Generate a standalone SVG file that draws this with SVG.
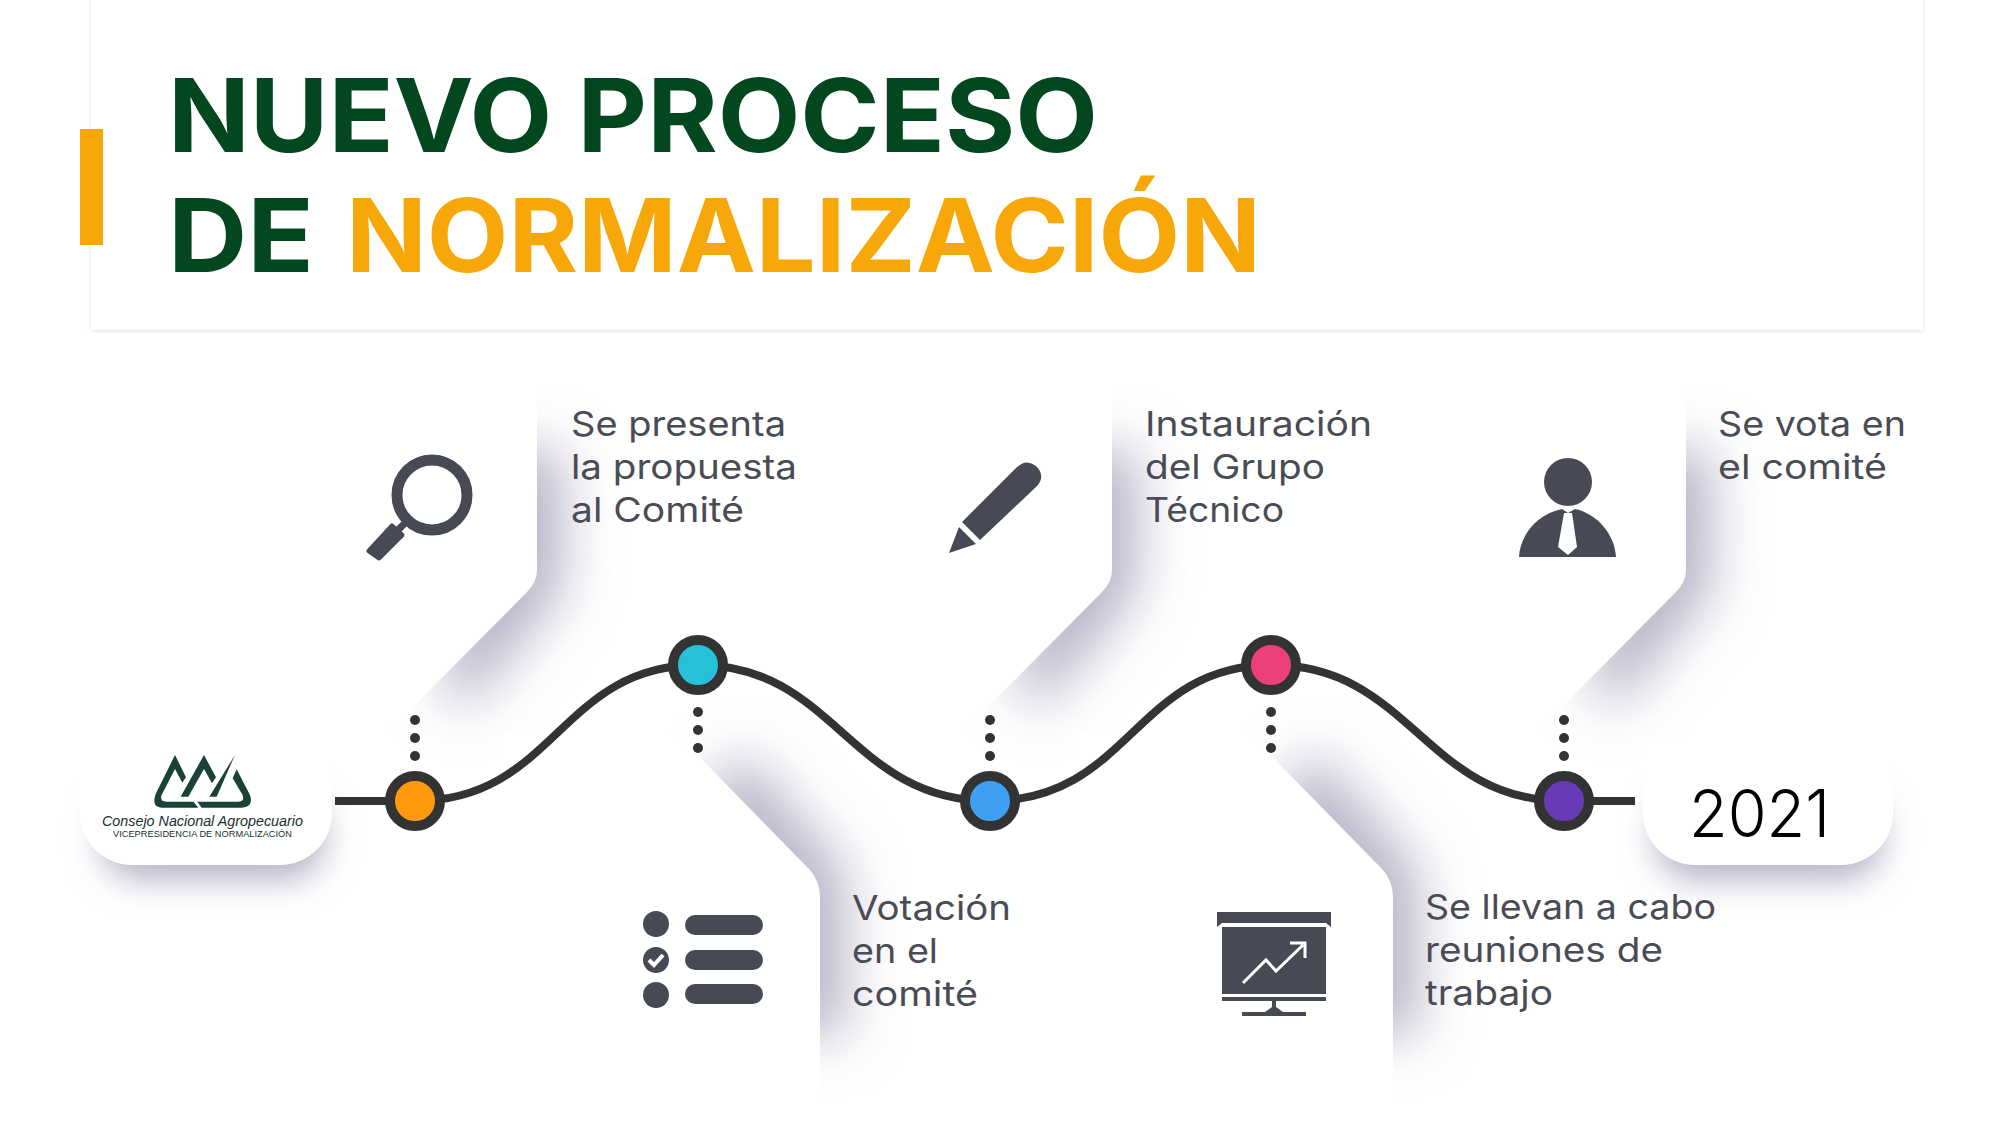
<svg xmlns="http://www.w3.org/2000/svg" width="2000" height="1125" viewBox="0 0 2000 1125">
<style>
.t{font-family:"Inter","Noto Sans",sans-serif;font-size:34px;fill:#4a4c55}
.h{font-family:"Inter","Noto Sans",sans-serif;font-size:102px;font-weight:700}
.g{fill:#03471f}.o{fill:#f7a707}
.ic{fill:#474a54}
.n{stroke:#333;stroke-width:10}
.w{fill:#fff}
.s{fill:#b4b4c8}
.d{fill:#333}
.l{fill:none;stroke:#333;stroke-width:8}
</style>
<defs>
<filter id="b" x="-80%" y="-50%" width="260%" height="200%"><feGaussianBlur stdDeviation="27"/></filter>
<filter id="c" x="-10%" y="-30%" width="120%" height="160%"><feGaussianBlur stdDeviation="2"/></filter>
<filter id="p" x="-30%" y="-60%" width="160%" height="220%"><feGaussianBlur stdDeviation="16"/></filter>
<path id="up" d="M340 -60H537V175Q537 187 527 197L395 330H340Z"/>
<path id="ups" d="M480 55H562V195L470 310L440 295Z"/>
<path id="dn" d="M-200 -35H-28L107 103Q117 115 117 130V340H-200Z"/>
<path id="dns" d="M-8 40L40 -15L142 105V268H60V135Z"/>
</defs>
<rect width="2000" height="1125" fill="#fff"/>
<g id="title">
<rect x="91" y="-10" width="1832" height="341" fill="#000" opacity=".12" filter="url(#c)"/>
<rect x="91" y="-10" width="1832" height="340" class="w"/>
<rect x="80" y="129" width="23" height="116" class="o"/>
<text class="h g" x="168" y="152" textLength="930" lengthAdjust="spacingAndGlyphs">NUEVO PROCESO</text>
<text class="h g" x="168" y="272" textLength="146" lengthAdjust="spacingAndGlyphs">DE</text>
<text class="h o" x="346" y="272" textLength="915" lengthAdjust="spacingAndGlyphs">NORMALIZACIÓN</text>
</g>
<g id="shadows">
<use href="#ups" transform="translate(0,395)" class="s" filter="url(#b)"/>
<use href="#ups" transform="translate(575,395)" class="s" filter="url(#b)"/>
<use href="#ups" transform="translate(1149,395)" class="s" filter="url(#b)"/>
<use href="#dns" transform="translate(703,767)" class="s" filter="url(#b)"/>
<use href="#dns" transform="translate(1276,767)" class="s" filter="url(#b)"/>
<rect x="100" y="790" width="225" height="90" rx="40" class="s" filter="url(#p)"/>
<rect x="1655" y="790" width="228" height="90" rx="40" class="s" filter="url(#p)"/>
</g>
<g id="cards">
<use href="#up" transform="translate(0,395)" class="w"/>
<use href="#up" transform="translate(575,395)" class="w"/>
<use href="#up" transform="translate(1149,395)" class="w"/>
<use href="#dn" transform="translate(703,767)" class="w"/>
<use href="#dn" transform="translate(1276,767)" class="w"/>
<path class="w" d="M80 745H332V813A52 52 0 0 1 280 865H132A52 52 0 0 1 80 813Z"/>
<path class="w" d="M1643 740H1893V813A52 52 0 0 1 1841 865H1695A52 52 0 0 1 1643 813Z"/>
</g>
<g id="connectors">
<path class="l" d="M335 801H415C555 801 560 665 698 665C835 665 850 801 990 801C1130 801 1135 665 1272 665C1410 665 1425 801 1564 801H1635"/>
<g class="d">
<circle cx="415" cy="720" r="5"/><circle cx="415" cy="738" r="5"/><circle cx="415" cy="756" r="5"/>
<circle cx="698" cy="712" r="5"/><circle cx="698" cy="730" r="5"/><circle cx="698" cy="748" r="5"/>
<circle cx="990" cy="720" r="5"/><circle cx="990" cy="738" r="5"/><circle cx="990" cy="756" r="5"/>
<circle cx="1271" cy="712" r="5"/><circle cx="1271" cy="730" r="5"/><circle cx="1271" cy="748" r="5"/>
<circle cx="1564" cy="720" r="5"/><circle cx="1564" cy="738" r="5"/><circle cx="1564" cy="756" r="5"/>
</g>
</g>
<g id="node-1"><circle class="n" cx="415" cy="801" r="25" fill="#ff9a0f"/></g>
<g id="node-2"><circle class="n" cx="698" cy="665" r="25" fill="#26c0d9"/></g>
<g id="node-3"><circle class="n" cx="990" cy="801" r="25" fill="#3f9ff2"/></g>
<g id="node-4"><circle class="n" cx="1271" cy="665" r="25" fill="#ec407a"/></g>
<g id="node-5"><circle class="n" cx="1564" cy="801" r="25" fill="#673ab7"/></g>
<g id="logo">
<g transform="translate(60,700) scale(.3333)" fill="#1b4238">
<path d="M345 165L378 232L367 248L345 207L305 285Q298 305 320 305H400L415 323H305Q272 320 288 280Z"/>
<path d="M432 165L468 232L456 250L432 207L385 290H362Z"/>
<path d="M525 165L470 290H448Z"/>
<path d="M530 208L570 285Q582 320 545 323H425L412 305H535Q555 305 548 285L518 235Z"/>
</g>
<text x="102" y="826" font-family="Liberation Sans,sans-serif" font-style="italic" font-size="14" fill="#1a2f2c" textLength="201" lengthAdjust="spacingAndGlyphs">Consejo Nacional Agropecuario</text>
<text x="113" y="837" font-family="Liberation Sans,sans-serif" font-size="8.5" fill="#1a2f2c" textLength="179" lengthAdjust="spacingAndGlyphs">VICEPRESIDENCIA DE NORMALIZACIÓN</text>
</g>
<g id="step-1">
<circle cx="432" cy="495" r="35" fill="none" stroke="#474a54" stroke-width="11"/>
<path class="ic" d="M369 551L392 526L402 535L379 558Z" stroke="#474a54" stroke-width="5" stroke-linejoin="round"/>
<path d="M398 530L408 520" stroke="#474a54" stroke-width="7"/>
<text class="t" x="571" y="436" textLength="215" lengthAdjust="spacingAndGlyphs">Se presenta</text>
<text class="t" x="571" y="479" textLength="226" lengthAdjust="spacingAndGlyphs">la propuesta</text>
<text class="t" x="571" y="522" textLength="173" lengthAdjust="spacingAndGlyphs">al Comité</text>
</g>
<g id="step-2">
<circle class="ic" cx="656" cy="924" r="13"/><circle class="ic" cx="656" cy="960" r="13"/><circle class="ic" cx="656" cy="995" r="13"/>
<path d="M649 960L654 965L663 955" fill="none" stroke="#fff" stroke-width="4"/>
<rect class="ic" x="685" y="915" width="78" height="20" rx="10"/><rect class="ic" x="685" y="950" width="78" height="20" rx="10"/><rect class="ic" x="685" y="984" width="78" height="20" rx="10"/>
<text class="t" x="852" y="920" textLength="159" lengthAdjust="spacingAndGlyphs">Votación</text>
<text class="t" x="852" y="963" textLength="86" lengthAdjust="spacingAndGlyphs">en el</text>
<text class="t" x="852" y="1006" textLength="126" lengthAdjust="spacingAndGlyphs">comité</text>
</g>
<g id="step-3">
<path class="ic" d="M962 522L1016 468Q1026 458 1036 466Q1046 476 1037 486L980 540Z"/>
<path class="ic" d="M949 553L959 527L976 544Z"/>
<text class="t" x="1145" y="436" textLength="227" lengthAdjust="spacingAndGlyphs">Instauración</text>
<text class="t" x="1145" y="479" textLength="180" lengthAdjust="spacingAndGlyphs">del Grupo</text>
<text class="t" x="1145" y="522" textLength="139" lengthAdjust="spacingAndGlyphs">Técnico</text>
</g>
<g id="step-4">
<path class="ic" d="M1217 912H1331V927L1326 923H1222L1217 927Z"/>
<rect class="ic" x="1222" y="927" width="104" height="67"/>
<rect class="ic" x="1222" y="997" width="104" height="4"/>
<path class="ic" d="M1272 1001H1276V1007L1283 1012H1306V1016H1242V1012H1265L1272 1007Z"/>
<path d="M1243 983L1266 960L1276 971L1303 945M1290 943H1305V958" fill="none" stroke="#fff" stroke-width="3"/>
<text class="t" x="1425" y="919" textLength="291" lengthAdjust="spacingAndGlyphs">Se llevan a cabo</text>
<text class="t" x="1425" y="962" textLength="238" lengthAdjust="spacingAndGlyphs">reuniones de</text>
<text class="t" x="1425" y="1005" textLength="128" lengthAdjust="spacingAndGlyphs">trabajo</text>
</g>
<g id="step-5">
<circle class="ic" cx="1568" cy="482" r="24"/>
<path class="ic" d="M1519 557C1520 535 1537 514 1562 509L1568 513L1575 509C1598 514 1615 535 1616 557Z"/>
<path class="w" d="M1564 513H1572L1577 547L1568 555L1558 547Z"/>
<text class="t" x="1718" y="436" textLength="188" lengthAdjust="spacingAndGlyphs">Se vota en</text>
<text class="t" x="1718" y="479" textLength="169" lengthAdjust="spacingAndGlyphs">el comité</text>
</g>
<g id="year">
<text x="1689" y="837" font-family="Inter,sans-serif" font-weight="300" font-size="66" fill="#000" textLength="141" lengthAdjust="spacingAndGlyphs">2021</text>
</g>
</svg>
